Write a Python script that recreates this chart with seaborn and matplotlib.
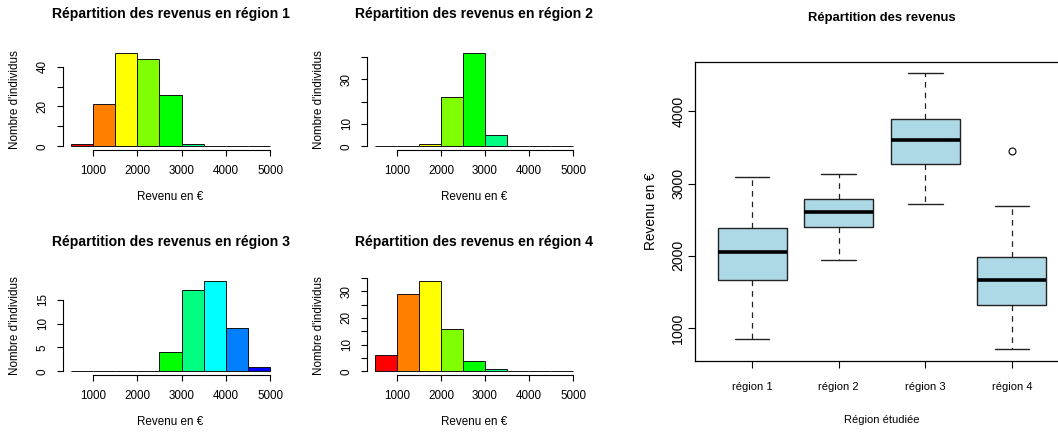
import matplotlib
matplotlib.use("Agg")
import matplotlib.pyplot as plt
import numpy as np
import pandas as pd
import seaborn as sns

# ---- income histograms: counts per 500 € bin ----
bin_edges = [500, 1000, 1500, 2000, 2500, 3000, 3500, 4000, 4500, 5000]
bin_colors = ["#FF0000", "#FF8000", "#FFFF00", "#80FF00", "#00FF00",
              "#00FF80", "#00FFFF", "#0080FF", "#0000FF"]

counts_r1 = [1, 21, 47, 44, 26, 1, 0, 0, 0]
counts_r2 = [0, 0, 1, 22, 42, 5, 0, 0, 0]
counts_r3 = [0, 0, 0, 0, 4, 17, 19, 9, 1]
counts_r4 = [6, 29, 34, 16, 4, 1, 0, 0, 0]

yticks_r1 = [0, 10, 20, 30, 40]
ylabels_r1 = ["0", "", "20", "", "40"]
yticks_r2 = [0, 10, 20, 30, 40]
ylabels_r2 = ["0", "10", "", "30", ""]
yticks_r3 = [0, 5, 10, 15]
ylabels_r3 = ["0", "5", "10", "15"]
yticks_r4 = [0, 5, 10, 15, 20, 25, 30, 35]
ylabels_r4 = ["0", "", "10", "", "20", "", "30", ""]

xticks_hist = [1000, 2000, 3000, 4000, 5000]

# ---- income box plot summaries per region ----
regions = ["région 1", "région 2", "région 3", "région 4"]
whisker_low = [844, 1940, 2714, 705]
quart_1 = [1669, 2401, 3272, 1314]
medians = [2046, 2613, 3603, 1659]
quart_3 = [2392, 2788, 3890, 1986]
whisker_high = [3093, 3139, 4525, 2687]
outliers = [[], [], [], [3457]]
yticks_box = [1000, 2000, 3000, 4000]

sns.set_theme(style="ticks")
plt.rcParams["font.family"] = ["Liberation Sans", "DejaVu Sans"]
plt.rcParams["text.color"] = "black"
plt.rcParams["axes.labelcolor"] = "black"
plt.rcParams["xtick.color"] = "black"
plt.rcParams["ytick.color"] = "black"
plt.rcParams["axes.edgecolor"] = "black"

W, H = 1058, 432
fig = plt.figure(figsize=(W / 100, H / 100), dpi=100)


def px_axes(left, top, right, bottom):
    return fig.add_axes([left / W, 1 - bottom / H, (right - left) / W, (bottom - top) / H])


FS = 8.4
FS_TITLE = 10.1

panels = [
    ("Répartition des revenus en région 1", counts_r1, yticks_r1, ylabels_r1, (63, 49, 278, 150)),
    ("Répartition des revenus en région 2", counts_r2, yticks_r2, ylabels_r2, (367, 49, 581, 150)),
    ("Répartition des revenus en région 3", counts_r3, yticks_r3, ylabels_r3, (63, 277, 278, 375)),
    ("Répartition des revenus en région 4", counts_r4, yticks_r4, ylabels_r4, (367, 277, 581, 375)),
]

centers = [(a + b) / 2 for a, b in zip(bin_edges[:-1], bin_edges[1:])]

for title, counts, yt, yl, box in panels:
    ax = px_axes(*box)
    df = pd.DataFrame({"revenu": centers, "n": counts})
    sns.histplot(data=df, x="revenu", weights="n", bins=bin_edges, ax=ax,
                 alpha=1, edgecolor="#111111", linewidth=0.7, shrink=1)
    for patch, col in zip(ax.patches, bin_colors):
        patch.set_facecolor(col)
    top = max(counts)
    ax.set_xlim(500 - 0.04 * 4500, 5000 + 0.04 * 4500)
    ax.set_ylim(-0.04 * top, top * 1.04)
    ax.set_xticks(xticks_hist, [str(v) for v in xticks_hist])
    ax.set_yticks(yt, yl)
    for lab in ax.get_yticklabels():
        lab.set_rotation(90)
        lab.set_va("center")
    ax.tick_params(axis="x", length=4.3, width=0.8, pad=6.5, labelsize=FS)
    ax.tick_params(axis="y", length=4.3, width=0.8, pad=6, labelsize=FS)
    for s in ("top", "right"):
        ax.spines[s].set_visible(False)
    ax.spines["left"].set_bounds(yt[0], yt[-1])
    ax.spines["bottom"].set_bounds(xticks_hist[0], xticks_hist[-1])
    ax.spines["left"].set_linewidth(0.8)
    ax.spines["bottom"].set_linewidth(0.8)
    ax.set_xlabel("")
    ax.set_ylabel("")
    l, t, r, b = box
    cx = (l + r) / 2
    fig.text(cx / W, 1 - (t - 35) / H, title, ha="center", va="center",
             fontsize=FS_TITLE, fontweight="bold")
    fig.text(cx / W, 1 - (b + 47) / H, "Revenu en €", ha="center", va="center", fontsize=FS)
    fig.text((l - 48) / W, 1 - (t + b) / 2 / H, "Nombre d'individus", ha="center",
             va="center", rotation=90, fontsize=FS)

# ---- box plot of incomes by region ----
axb = px_axes(695, 62, 1069, 361)
stats = []
for name, wl, q1, md, q3, wh, fl in zip(regions, whisker_low, quart_1, medians,
                                        quart_3, whisker_high, outliers):
    stats.append(dict(label=name, whislo=wl, q1=q1, med=md, q3=q3, whishi=wh, fliers=fl))
axb.bxp(stats, positions=[1, 2, 3, 4], widths=0.8, capwidths=0.4, patch_artist=True,
        showfliers=True,
        boxprops=dict(facecolor="#ADD8E6", edgecolor="#222222", linewidth=1),
        medianprops=dict(color="black", linewidth=2.6, solid_capstyle="butt"),
        whiskerprops=dict(color="#222222", linewidth=0.9, linestyle=(0, (4.5, 4))),
        capprops=dict(color="#222222", linewidth=1),
        flierprops=dict(marker="o", markerfacecolor="none", markeredgecolor="black",
                        markersize=5, markeredgewidth=0.8))
axb.set_xlim(0.34, 4.66)
axb.set_ylim(544, 4683)
axb.set_yticks(yticks_box, [str(v) for v in yticks_box])
for lab in axb.get_yticklabels():
    lab.set_rotation(90)
    lab.set_va("center")
    lab.set_fontsize(10.2)
for lab in axb.get_xticklabels():
    lab.set_fontsize(8.0)
axb.tick_params(axis="x", length=5, width=0.8, pad=10)
axb.tick_params(axis="y", length=5, width=0.8, pad=2)
for s in ("top", "left", "bottom", "right"):
    axb.spines[s].set_linewidth(0.9)

fig.text(882 / W, 1 - 18 / H, "Répartition des revenus", ha="center", va="center",
         fontsize=9.4, fontweight="bold")
fig.text(882 / W, 1 - 420 / H, "Région étudiée", ha="center", va="center",
         fontsize=8.0)
fig.text(651 / W, 1 - 211 / H, "Revenu en €", ha="center", va="center",
         rotation=90, fontsize=9.8)

fig.savefig("out.png", dpi=100)
